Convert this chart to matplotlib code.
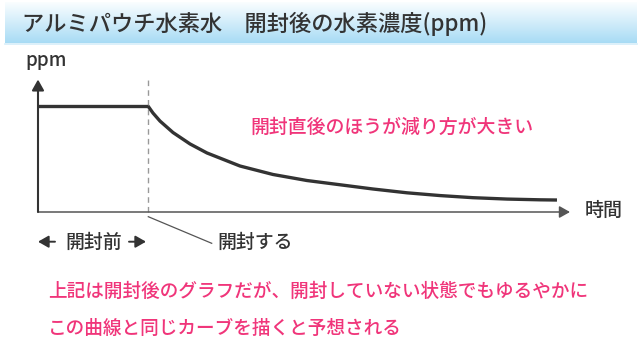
import numpy as np
import matplotlib
matplotlib.use("Agg")
import matplotlib.pyplot as plt

plt.rcParams['font.family'] = ['Noto Sans CJK JP', 'DejaVu Sans']
plt.rcParams['font.weight'] = 'medium'

# ---- data ----
time_before = [0.0, 1.0]
ppm_before = [1.0, 1.0]
time_after = [1.000, 1.045, 1.109, 1.227, 1.382, 1.536, 1.836, 2.136, 2.445,
              2.745, 3.045, 3.355, 3.655, 3.955, 4.264, 4.564, 4.718]
ppm_after = [1.000, 0.934, 0.858, 0.750, 0.642, 0.557, 0.434, 0.354, 0.297,
             0.257, 0.217, 0.181, 0.155, 0.135, 0.122, 0.115, 0.113]
open_time = 1.0

title = "アルミパウチ水素水　開封後の水素濃度(ppm)"
y_label = "ppm"
x_label = "時間"
note_curve = "開封直後のほうが減り方が大きい"
label_before = "開封前"
label_open = "開封する"
note_lines = ["上記は開封後のグラフだが、開封していない状態でもゆるやかに",
              "この曲線と同じカーブを描くと予想される"]

W, H = 640, 357
fig = plt.figure(figsize=(W / 100, H / 100), dpi=100)

# overlay axes in pixel coordinates for layout elements
ov = fig.add_axes([0, 0, 1, 1])
ov.axis('off')

# title band gradient
grad = np.linspace(0, 1, 100).reshape(-1, 1)
top = np.array([0.98, 0.995, 1.0])
bot = np.array([0.66, 0.86, 0.96])
img = top[None, None, :] * (1 - grad[:, :, None]) + bot[None, None, :] * grad[:, :, None]
ov.imshow(img, extent=[5, 637, 43.5, 3], aspect='auto', zorder=0)
ov.plot([5, 637], [44.2, 44.2], color='#d6eef9', lw=1.2, zorder=1)
ov.set_xlim(0, W)
ov.set_ylim(H, 0)
ov.text(22, 24, title, fontsize=16, color='#333333', ha='left', va='center')

# data axes
px_left, px_right, px_top, px_bottom = 38, 577, 76, 212
ax = fig.add_axes([px_left / W, (H - px_bottom) / H,
                   (px_right - px_left) / W, (px_bottom - px_top) / H])
xmax = (px_right - px_left) / 110.0
ymax = (px_bottom - px_top) / 106.0
ax.set_xlim(0, xmax)
ax.set_ylim(0, ymax)
ax.axis('off')

arrow_tip_x = (570 - 38) / 110.0
arrow_tip_y = (212 - 79.5) / 106.0
ax.annotate('', xy=(arrow_tip_x, 0), xytext=(0, 0),
            arrowprops=dict(arrowstyle='-|>,head_length=0.8,head_width=0.45',
                            color='#555555', lw=1.1, mutation_scale=8,
                            shrinkA=0, shrinkB=0), annotation_clip=False)
ax.annotate('', xy=(0, arrow_tip_y), xytext=(0, 0),
            arrowprops=dict(arrowstyle='-|>,head_length=0.8,head_width=0.45',
                            color='#333333', lw=1.5, mutation_scale=8,
                            shrinkA=0, shrinkB=0), annotation_clip=False)

ax.plot([open_time, open_time], [0, (212 - 78) / 106.0], color='#999999',
        lw=1.0, dashes=(4, 3), clip_on=False, zorder=2)
ax.plot(time_before, ppm_before, color='#333333', lw=2.4,
        solid_capstyle='butt', clip_on=False, zorder=3)
ax.plot(time_after, ppm_after, color='#333333', lw=2.4,
        solid_capstyle='butt', solid_joinstyle='round', clip_on=False, zorder=3)

# labels in pixel space
ov.text(25, 66.5, y_label, fontsize=13.5, color='#333333', ha='left', va='baseline')
ov.text(604, 210, x_label, fontsize=13.7, color='#333333', ha='center', va='center')
ov.text(391.5, 127, note_curve, fontsize=13.6, color='#f0357a', ha='center', va='center')

arrow_small = dict(arrowstyle='-|>,head_length=0.7,head_width=0.4',
                   color='#333333', lw=1.4, mutation_scale=9,
                   shrinkA=0, shrinkB=0)
ov.annotate('', xy=(38, 241.7), xytext=(55, 241.7), arrowprops=arrow_small)
ov.annotate('', xy=(146, 241.7), xytext=(129, 241.7), arrowprops=arrow_small)
ov.text(93.5, 241.7, label_before, fontsize=13.6, color='#333333', ha='center', va='center')

ov.plot([148.3, 211.7], [216.7, 243.3], color='#555555', lw=0.9)
ov.text(255, 241.7, label_open, fontsize=13.6, color='#333333', ha='center', va='center')

ov.text(48, 291.7, note_lines[0], fontsize=13.4, color='#f0357a', ha='left', va='center')
ov.text(48, 328, note_lines[1], fontsize=13.4, color='#f0357a', ha='left', va='center')

fig.savefig('out.png', dpi=100, facecolor='white')
